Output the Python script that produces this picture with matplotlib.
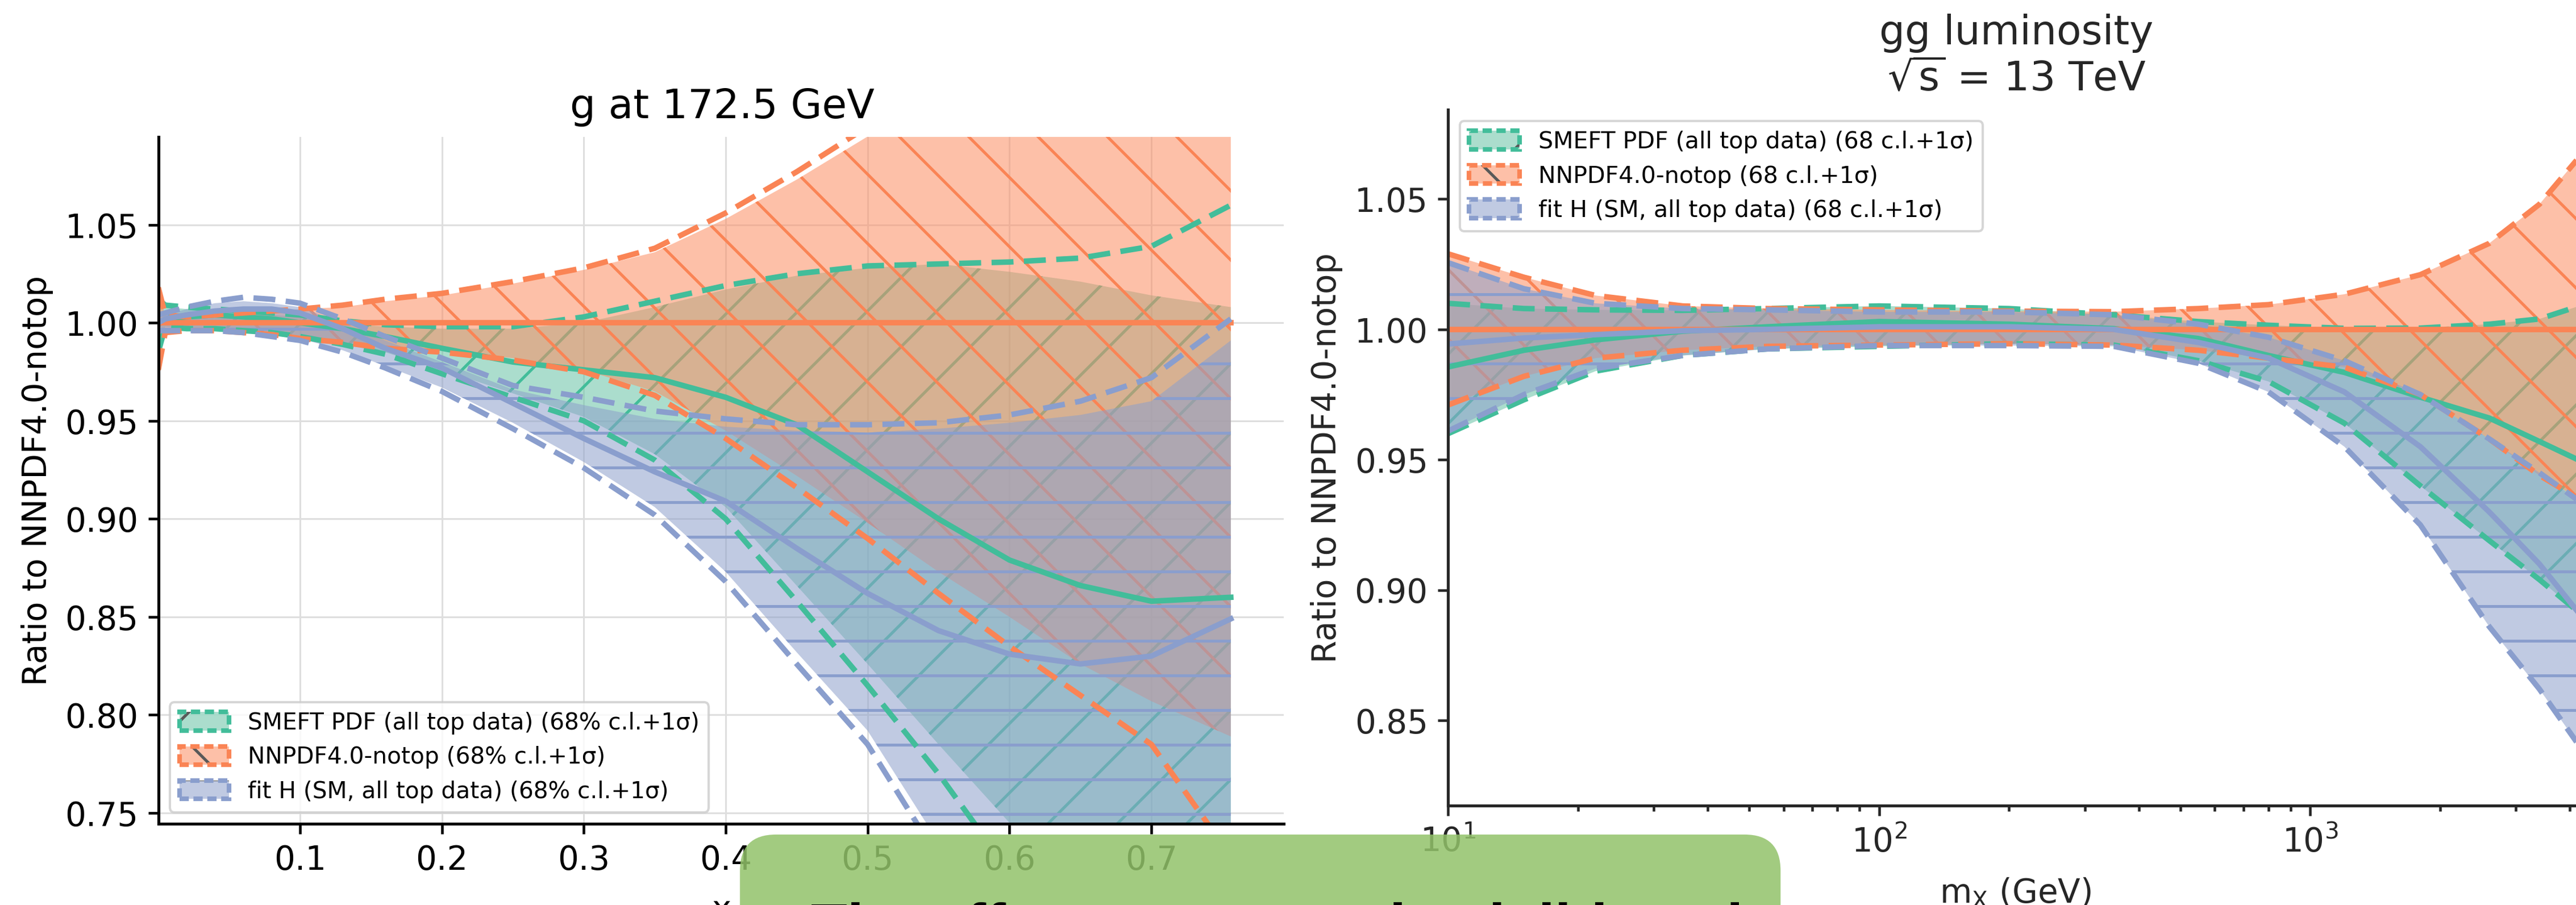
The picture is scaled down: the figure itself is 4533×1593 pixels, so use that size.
import matplotlib
matplotlib.use("Agg")
import matplotlib.pyplot as plt
from matplotlib.patches import Patch, FancyBboxPatch

plt.rcParams['font.family'] = 'DejaVu Sans'
plt.rcParams['hatch.linewidth'] = 1.0

# ---------------- data: g at 172.5 GeV (ratio to NNPDF4.0-notop) ----------------
x_g = [0.0001, 0.005, 0.02, 0.04, 0.06, 0.08, 0.1, 0.13, 0.16, 0.2, 0.25,
       0.3, 0.35, 0.4, 0.45, 0.5, 0.55, 0.6, 0.65, 0.7, 0.756]

# NNPDF4.0-notop (reference, central = 1)
no_cv = [1.0] * len(x_g)
no_cl_up = [1.016, 1.004, 1.003, 1.004, 1.005, 1.006, 1.007, 1.008, 1.011, 1.014, 1.020,
            1.027, 1.036, 1.053, 1.073, 1.095, 1.12, 1.15, 1.19, 1.23, 1.27]
no_cl_lo = [0.978, 0.996, 0.996, 0.996, 0.995, 0.994, 0.992, 0.990, 0.988, 0.986, 0.982,
            0.976, 0.965, 0.945, 0.922, 0.898, 0.873, 0.850, 0.826, 0.807, 0.789]
no_sd_up = [1.018, 1.004, 1.003, 1.004, 1.005, 1.006, 1.007, 1.009, 1.012, 1.015, 1.021,
            1.028, 1.038, 1.056, 1.077, 1.10, 1.13, 1.16, 1.20, 1.24, 1.28]
no_sd_lo = [0.976, 0.995, 0.996, 0.996, 0.995, 0.994, 0.992, 0.990, 0.987, 0.985, 0.981,
            0.975, 0.963, 0.941, 0.916, 0.890, 0.862, 0.835, 0.810, 0.785, 0.728]

# SMEFT PDF (all top data)
sm_cv = [1.000, 1.001, 1.003, 1.004, 1.003, 1.002, 1.000, 0.997, 0.993, 0.987, 0.980,
         0.976, 0.972, 0.962, 0.948, 0.924, 0.900, 0.879, 0.866, 0.858, 0.860]
sm_cl_up = [1.010, 1.008, 1.007, 1.006, 1.005, 1.004, 1.003, 1.000, 0.998, 0.997, 0.997,
            1.000, 1.008, 1.017, 1.024, 1.028, 1.030, 1.026, 1.021, 1.014, 1.008]
sm_cl_lo = [0.987, 0.998, 0.997, 0.997, 0.996, 0.995, 0.993, 0.989, 0.985, 0.976, 0.964,
            0.952, 0.933, 0.906, 0.866, 0.826, 0.785, 0.745, 0.710, 0.680, 0.650]
sm_sd_up = [1.012, 1.009, 1.008, 1.007, 1.006, 1.005, 1.004, 1.001, 0.999, 0.998, 0.998,
            1.003, 1.011, 1.019, 1.025, 1.029, 1.030, 1.031, 1.033, 1.039, 1.060]
sm_sd_lo = [0.985, 0.998, 0.997, 0.997, 0.996, 0.995, 0.993, 0.989, 0.984, 0.974, 0.962,
            0.950, 0.930, 0.900, 0.858, 0.815, 0.770, 0.720, 0.670, 0.630, 0.590]

# fit H (SM, all top data)
fh_cv = [1.000, 1.002, 1.004, 1.006, 1.007, 1.007, 1.005, 0.997, 0.987, 0.977, 0.959,
         0.941, 0.924, 0.909, 0.885, 0.862, 0.843, 0.831, 0.826, 0.830, 0.849]
fh_cl_up = [1.003, 1.004, 1.007, 1.010, 1.011, 1.010, 1.008, 1.000, 0.991, 0.980, 0.966,
            0.958, 0.951, 0.947, 0.945, 0.944, 0.946, 0.949, 0.953, 0.960, 0.991]
fh_cl_lo = [0.997, 0.997, 0.997, 0.997, 0.996, 0.994, 0.992, 0.986, 0.978, 0.967, 0.949,
            0.929, 0.906, 0.873, 0.832, 0.792, 0.735, 0.680, 0.630, 0.590, 0.550]
fh_sd_up = [1.004, 1.005, 1.008, 1.011, 1.013, 1.012, 1.010, 1.002, 0.993, 0.982, 0.968,
            0.962, 0.955, 0.951, 0.948, 0.948, 0.949, 0.953, 0.960, 0.972, 1.002]
fh_sd_lo = [0.996, 0.996, 0.996, 0.996, 0.995, 0.993, 0.991, 0.985, 0.977, 0.965, 0.946,
            0.926, 0.902, 0.868, 0.826, 0.785, 0.727, 0.670, 0.620, 0.580, 0.540]

# ---------------- data: gg luminosity, sqrt(s) = 13 TeV ----------------
m_x = [10, 15, 22, 35, 55, 100, 200, 350, 550, 800, 1200, 1800, 2600, 3400, 4300]

lum_no_cv = [1.0] * len(m_x)
lum_no_up = [1.029, 1.020, 1.013, 1.009, 1.008, 1.0075, 1.007, 1.0068, 1.008, 1.0095,
             1.0135, 1.021, 1.033, 1.048, 1.068]
lum_no_lo = [0.971, 0.982, 0.989, 0.992, 0.9935, 0.994, 0.9945, 0.994, 0.992, 0.989,
             0.9855, 0.975, 0.958, 0.944, 0.934]

lum_sm_cv = [0.9856, 0.992, 0.996, 0.9993, 1.001, 1.003, 1.002, 1.0003, 0.9965, 0.990,
             0.9835, 0.974, 0.966, 0.957, 0.949]
lum_sm_up = [1.010, 1.008, 1.0075, 1.0073, 1.008, 1.009, 1.008, 1.0056, 1.003, 1.0016,
             1.0004, 1.0005, 1.002, 1.004, 1.0095]
lum_sm_lo = [0.960, 0.973, 0.984, 0.990, 0.9925, 0.9935, 0.9945, 0.994, 0.988, 0.980,
             0.964, 0.940, 0.919, 0.904, 0.890]

lum_fh_cv = [0.9944, 0.9967, 0.998, 0.9995, 1.000, 1.001, 1.001, 1.000, 0.995, 0.989,
             0.976, 0.955, 0.930, 0.910, 0.889]
lum_fh_up = [1.0256, 1.0156, 1.010, 1.008, 1.0075, 1.0067, 1.0067, 1.0056, 1.002, 0.997,
             0.988, 0.975, 0.958, 0.945, 0.933]
lum_fh_lo = [0.961, 0.975, 0.985, 0.990, 0.9925, 0.9938, 0.9938, 0.9935, 0.987, 0.976,
             0.955, 0.925, 0.886, 0.862, 0.838]

labels_g = ["SMEFT PDF (all top data) (68% c.l.+1σ)",
            "NNPDF4.0-notop (68% c.l.+1σ)",
            "fit H (SM, all top data) (68% c.l.+1σ)"]
labels_lum = ["SMEFT PDF (all top data) (68 c.l.+1σ)",
              "NNPDF4.0-notop (68 c.l.+1σ)",
              "fit H (SM, all top data) (68 c.l.+1σ)"]

# colours (Set2-like)
fills = ['#66c2a5', '#fc8d62', '#8da0cb']
lines = ['#42bd9a', '#fa8455', '#8a9ecd']
hatches = ['/', '\\', '-']

DASH = (0, (4.0, 1.9))


def draw_pdf(ax, x, cv, cl_lo, cl_up, sd_lo, sd_up, k):
    ax.fill_between(x, cl_lo, cl_up, facecolor=fills[k], alpha=0.55, lw=0)
    ax.fill_between(x, cl_lo, cl_up, facecolor='none', edgecolor=lines[k],
                    hatch=hatches[k], lw=0)
    ax.plot(x, sd_up, color=lines[k], lw=1.9, ls=DASH)
    ax.plot(x, sd_lo, color=lines[k], lw=1.9, ls=DASH)
    ax.plot(x, cv, color=lines[k], lw=1.9)


def legend_handles():
    hs = []
    for k in range(3):
        hs.append((Patch(facecolor=fills[k], alpha=0.55, edgecolor='none'),
                   Patch(facecolor='none', edgecolor='0.35', hatch=hatches[k], lw=0),
                   Patch(facecolor='none', edgecolor=lines[k], lw=1.6, ls=(0, (2, 1)))))
    return hs


DPI = 366
W, H = 4533, 1593
fig = plt.figure(figsize=((W + 0.4) / DPI, (H + 0.4) / DPI), dpi=DPI)

# ---------------- left panel ----------------
ax1 = fig.add_axes([0.06155, 0.08977, 0.43680, 0.75894])
draw_pdf(ax1, x_g, sm_cv, sm_cl_lo, sm_cl_up, sm_sd_lo, sm_sd_up, 0)
draw_pdf(ax1, x_g, no_cv, no_cl_lo, no_cl_up, no_sd_lo, no_sd_up, 1)
draw_pdf(ax1, x_g, fh_cv, fh_cl_lo, fh_cl_up, fh_sd_lo, fh_sd_up, 2)
ax1.set_xlim(0.0003, 0.7934)
ax1.set_ylim(0.7445, 1.0949)
ax1.set_xticks([0.1, 0.2, 0.3, 0.4, 0.5, 0.6, 0.7])
ax1.set_yticks([0.75, 0.80, 0.85, 0.90, 0.95, 1.00, 1.05])
ax1.grid(True, color='#dedede', lw=0.6)
ax1.set_axisbelow(True)
ax1.set_xlabel('x', fontsize=11.4, labelpad=6)
ax1.set_ylabel('Ratio to NNPDF4.0-notop', fontsize=11.4)
ax1.tick_params(labelsize=11.4, width=0.9)
for s in ['top', 'right']:
    ax1.spines[s].set_visible(False)
for s in ['left', 'bottom']:
    ax1.spines[s].set_linewidth(1.0)
leg1 = ax1.legend(legend_handles(), labels_g, loc='lower left', fontsize=8,
                  handlelength=2.15, handleheight=0.85, edgecolor='0.8', framealpha=0.8)
leg1.get_frame().set_linewidth(0.8)
fig.text(1271 / W, 1 - 208 / H, 'g at 172.5 GeV', ha='center', va='baseline', fontsize=14)

# ---------------- right panel ----------------
dark = '#262626'
ax2 = fig.add_axes([0.56210, 0.10986, 0.44033, 0.76899])
draw_pdf(ax2, m_x, lum_sm_cv, lum_sm_lo, lum_sm_up, lum_sm_lo, lum_sm_up, 0)
draw_pdf(ax2, m_x, lum_no_cv, lum_no_lo, lum_no_up, lum_no_lo, lum_no_up, 1)
draw_pdf(ax2, m_x, lum_fh_cv, lum_fh_lo, lum_fh_up, lum_fh_lo, lum_fh_up, 2)
ax2.set_xscale('log')
ax2.set_xlim(10, 4280)
ax2.set_ylim(0.8173, 1.0844)
ax2.set_yticks([0.85, 0.90, 0.95, 1.00, 1.05])
ax2.set_xlabel(r'$\mathrm{m}_{\mathrm{X}}$ (GeV)', fontsize=11.4, labelpad=6, color=dark)
ax2.set_ylabel('Ratio to NNPDF4.0-notop', fontsize=11.4, color=dark)
ax2.tick_params(which='both', labelsize=11.4, width=0.9, colors=dark)
for s in ['top', 'right']:
    ax2.spines[s].set_visible(False)
for s in ['left', 'bottom']:
    ax2.spines[s].set_linewidth(1.0)
    ax2.spines[s].set_color(dark)
leg2 = ax2.legend(legend_handles(), labels_lum, loc='upper left', fontsize=8.1,
                  handlelength=2.15, handleheight=0.85, edgecolor='0.8', framealpha=0.8)
leg2.get_frame().set_linewidth(0.8)
fig.text(3548 / W, 1 - 78 / H, 'gg luminosity', ha='center', va='baseline',
         fontsize=14, color=dark)
fig.text(3548 / W, 1 - 159 / H, r'$\sqrt{\mathrm{s}}$ = 13 TeV', ha='center',
         va='baseline', fontsize=14, color=dark)

# ---------------- green slide box overlapping the bottom ----------------
box = FancyBboxPatch((1302 / W, -0.2), (3133 - 1302) / W, 0.2 + (1593 - 1469) / H,
                     boxstyle='round,pad=0,rounding_size=0.014',
                     transform=fig.transFigure, facecolor='#92c26a', edgecolor='none',
                     alpha=0.85, zorder=10, mutation_aspect=W / H)
fig.add_artist(box)
fig.text(1427 / W, 1 - 1665 / H, 'The effects are mostly visible at large x',
         ha='left', va='baseline', fontsize=20.6, family='Liberation Sans',
         fontweight='bold', color='black', zorder=11)

fig.savefig('out.png', dpi=DPI)
